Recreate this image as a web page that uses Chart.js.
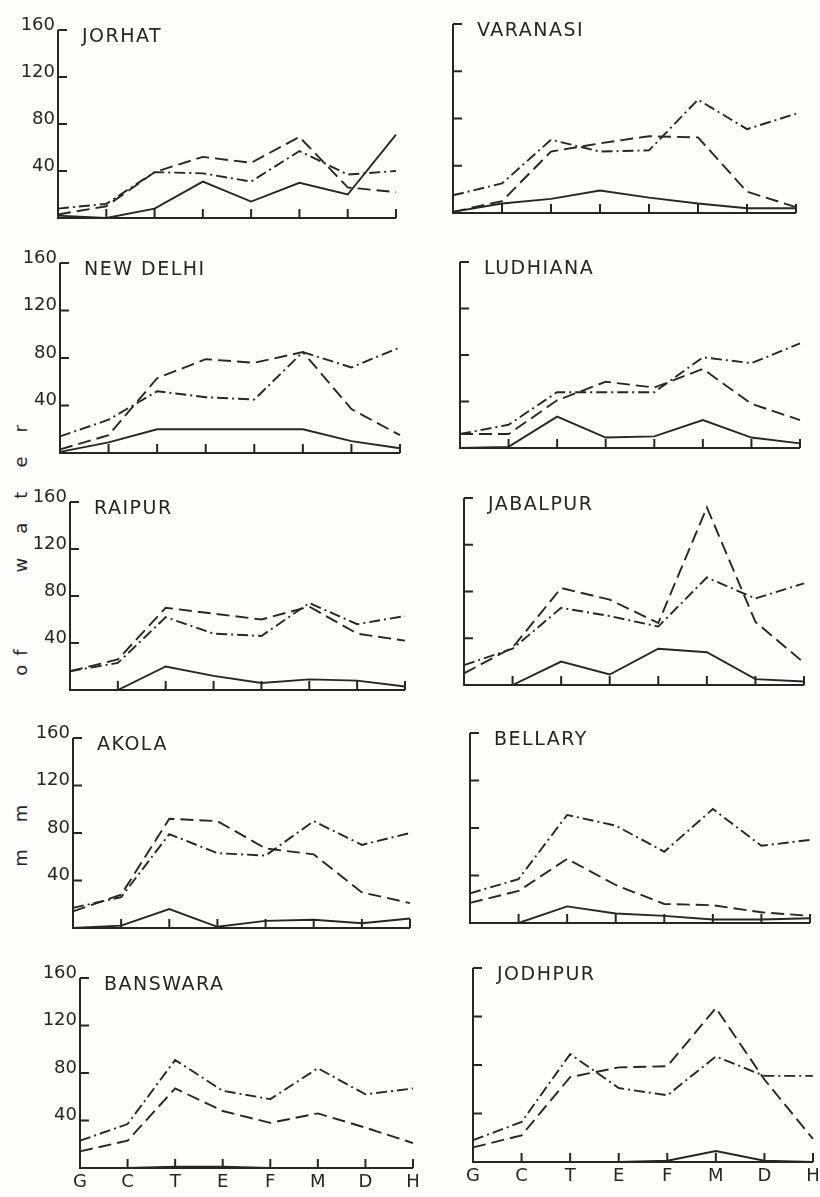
<!DOCTYPE html>
<html lang="en">
<head>
  <meta charset="UTF-8" />
  <title>mm of water</title>
  <style>
    body {
      margin: 0;
      background-color: #fdfdfb;
      font-family: "DejaVu Sans", sans-serif;
      width: 820px;
      height: 1197px;
      position: relative;
      overflow: hidden;
    }
    canvas {
      position: absolute;
    }
    .ylabel {
      position: absolute;
      left: 20px;
      top: 634px;
      transform: translate(-50%, -50%) rotate(-90deg);
      white-space: nowrap;
      font-size: 18px;
      color: #262626;
    }
  </style>
</head>
<body>
  <div class="ylabel"><span style="letter-spacing:27px">mm</span><span style="margin-left:102px;letter-spacing:9px">of</span><span style="margin-left:68px;letter-spacing:24px">water</span></div>

  <script src="https://cdn.jsdelivr.net/npm/chart.js"></script>
  <script>
    const categories = ['G', 'C', 'T', 'E', 'F', 'M', 'D', 'H'];
    const yTickValues = [40, 80, 120, 160];

    const jorhatSolid     = [2, 0, 8, 31, 14, 30, 20, 71];
    const jorhatDashed    = [3, 10, 39, 52, 47, 69, 26, 22];
    const jorhatDashDot   = [8, 12, 39, 38, 31, 57, 37, 40];

    const varanasiSolid   = [1, 8, 12, 19, 13, 8, 4, 4];
    const varanasiDashed  = [1, 10, 52, 59, 65, 64, 18, 5];
    const varanasiDashDot = [15, 25, 62, 52, 53, 96, 71, 84];

    const delhiSolid      = [1, 9, 20, 20, 20, 20, 10, 4];
    const delhiDashed     = [3, 15, 63, 79, 76, 85, 37, 15];
    const delhiDashDot    = [14, 28, 52, 47, 45, 85, 72, 89];

    const ludhianaSolid   = [0, 1, 27, 9, 10, 24, 9, 4];
    const ludhianaDashed  = [12, 12, 41, 57, 52, 68, 38, 24];
    const ludhianaDashDot = [12, 20, 48, 48, 48, 78, 73, 90];

    const raipurSolid     = [0, 0, 20, 12, 6, 9, 8, 3];
    const raipurDashed    = [16, 26, 70, 65, 60, 71, 48, 42];
    const raipurDashDot   = [16, 23, 62, 48, 46, 74, 56, 63];

    const jabalpurSolid   = [0, 0, 20, 9, 31, 28, 5, 3];
    const jabalpurDashed  = [10, 32, 83, 73, 53, 152, 54, 19];
    const jabalpurDashDot = [17, 31, 66, 59, 50, 92, 74, 87];

    const akolaSolid      = [0, 2, 16, 1, 6, 7, 4, 8];
    const akolaDashed     = [14, 28, 92, 90, 67, 62, 30, 21];
    const akolaDashDot    = [17, 26, 79, 63, 61, 90, 70, 80];

    const bellarySolid    = [0, 0, 14, 8, 6, 3, 3, 4];
    const bellaryDashed   = [17, 27, 54, 32, 16, 15, 9, 6];
    const bellaryDashDot  = [25, 37, 91, 82, 60, 96, 65, 70];

    const banswaraSolid   = [0, 0, 1, 1, 0, 0, 0, 0];
    const banswaraDashed  = [14, 23, 67, 48, 38, 46, 34, 21];
    const banswaraDashDot = [23, 37, 91, 65, 58, 84, 62, 67];

    const jodhpurSolid    = [0, 0, 0, 0, 1, 9, 1, 0];
    const jodhpurDashed   = [12, 22, 70, 78, 79, 127, 68, 19];
    const jodhpurDashDot  = [18, 33, 89, 61, 55, 87, 71, 71];

    const stations = [
      { name: 'JORHAT',    solid: jorhatSolid,   dashed: jorhatDashed,   dashDot: jorhatDashDot },
      { name: 'VARANASI',  solid: varanasiSolid, dashed: varanasiDashed, dashDot: varanasiDashDot },
      { name: 'NEW DELHI', solid: delhiSolid,    dashed: delhiDashed,    dashDot: delhiDashDot },
      { name: 'LUDHIANA',  solid: ludhianaSolid, dashed: ludhianaDashed, dashDot: ludhianaDashDot },
      { name: 'RAIPUR',    solid: raipurSolid,   dashed: raipurDashed,   dashDot: raipurDashDot },
      { name: 'JABALPUR',  solid: jabalpurSolid, dashed: jabalpurDashed, dashDot: jabalpurDashDot },
      { name: 'AKOLA',     solid: akolaSolid,    dashed: akolaDashed,    dashDot: akolaDashDot },
      { name: 'BELLARY',   solid: bellarySolid,  dashed: bellaryDashed,  dashDot: bellaryDashDot },
      { name: 'BANSWARA',  solid: banswaraSolid, dashed: banswaraDashed, dashDot: banswaraDashDot },
      { name: 'JODHPUR',   solid: jodhpurSolid,  dashed: jodhpurDashed,  dashDot: jodhpurDashDot }
    ];

    // page position of each panel: y-axis x, y of the 160 level, baseline y, right end of x-axis
    const frames = [
      [58, 30, 218, 396],   [453, 24, 213, 796],
      [60, 263, 453, 400],  [460, 262, 448, 800],
      [70, 502, 690, 405],  [464, 498, 685, 804],
      [73, 738, 928, 410],  [470, 733, 923, 810],
      [80, 978, 1168, 413], [473, 968, 1162, 813]
    ];

    const INK = '#262626';
    const AXIS_W = 50, PAD_TOP = 18, PAD_RIGHT = 14, XAXIS_H = 30;

    // axes drawn by hand so the tick marks point inwards like the original
    const decor = {
      id: 'decor',
      afterDraw(chart, args, opts) {
        const { ctx, chartArea: { left, right, top, bottom }, scales: { x, y } } = chart;
        ctx.save();
        ctx.strokeStyle = INK;
        ctx.lineWidth = 2;
        ctx.setLineDash([]);
        ctx.beginPath();
        ctx.moveTo(left, top);
        ctx.lineTo(left, bottom);
        ctx.lineTo(right, bottom);
        yTickValues.forEach(v => {
          const py = y.getPixelForValue(v);
          ctx.moveTo(left, py);
          ctx.lineTo(left + 9, py);
        });
        categories.forEach((c, i) => {
          if (i === 0) return;
          const px = x.getPixelForValue(i);
          ctx.moveTo(px, bottom);
          ctx.lineTo(px, bottom - 9);
        });
        ctx.stroke();

        ctx.fillStyle = INK;
        ctx.font = '19px "DejaVu Sans"';
        ctx.letterSpacing = '1.5px';
        ctx.textBaseline = 'middle';
        ctx.fillText(opts.name, left + 24, top + 7);
        ctx.restore();
      }
    };

    stations.forEach((st, i) => {
      const [ax, top, base, xEnd] = frames[i];
      const leftCol = i % 2 === 0;
      const bottomRow = i >= 8;

      const canvas = document.createElement('canvas');
      canvas.width = xEnd - ax + AXIS_W + PAD_RIGHT;
      canvas.height = base - top + PAD_TOP + XAXIS_H;
      canvas.style.left = (ax - AXIS_W) + 'px';
      canvas.style.top = (top - PAD_TOP) + 'px';
      document.body.appendChild(canvas);

      const line = (values, dash) => ({
        data: values,
        borderColor: INK,
        borderWidth: 1.9,
        borderDash: dash,
        pointRadius: 0,
        tension: 0,
        fill: false
      });

      new Chart(canvas.getContext('2d'), {
        type: 'line',
        data: {
          labels: categories,
          datasets: [
            line(st.solid, []),
            line(st.dashed, [13, 6]),
            line(st.dashDot, [11, 4, 2, 4])
          ]
        },
        options: {
          responsive: false,
          animation: false,
          layout: { padding: { top: PAD_TOP, right: PAD_RIGHT, left: 0, bottom: 0 } },
          plugins: {
            legend: { display: false },
            tooltip: { enabled: false },
            decor: { name: st.name }
          },
          scales: {
            x: {
              offset: false,
              grid: { display: false, drawTicks: false },
              border: { display: false },
              ticks: {
                display: bottomRow,
                color: INK,
                font: { family: 'DejaVu Sans', size: 18 },
                padding: 4,
                autoSkip: false,
                maxRotation: 0
              },
              afterFit: s => { s.height = XAXIS_H; }
            },
            y: {
              min: 0,
              max: 160,
              grid: { display: false, drawTicks: false },
              border: { display: false },
              ticks: {
                display: leftCol,
                stepSize: 40,
                color: INK,
                font: { family: 'DejaVu Sans', size: 18 },
                padding: 3,
                labelOffset: -5,
                callback: v => (v === 0 ? '' : v)
              },
              afterFit: s => { s.width = AXIS_W; }
            }
          }
        },
        plugins: [decor]
      });
    });
  </script>
</body>
</html>
